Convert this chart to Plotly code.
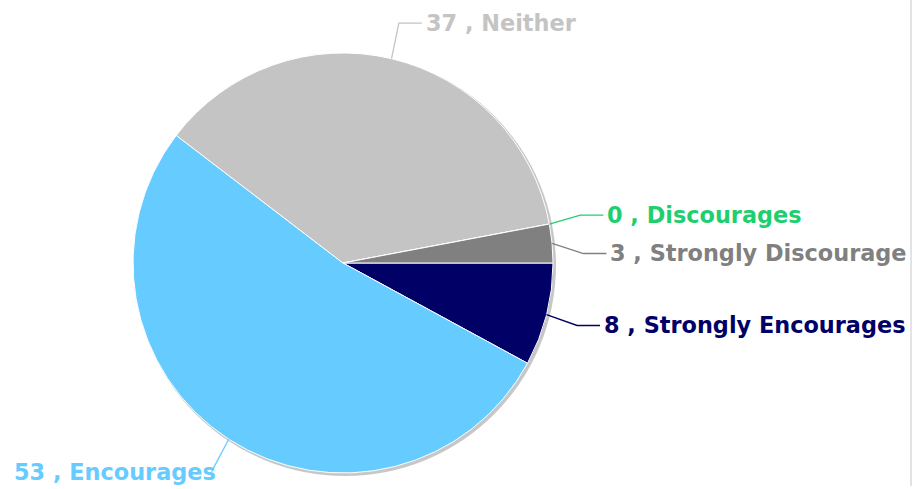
import math
import plotly.graph_objects as go

labels = ["Strongly Encourages", "Encourages", "Neither", "Discourages", "Strongly Discourage"]
values = [8, 53, 37, 0, 3]
slice_colors = ["#000066", "#66CCFF", "#C4C4C4", "#00CC66", "#808080"]
label_colors = ["#000066", "#66CCFF", "#C4C4C4", "#1ECF70", "#808080"]
label_nudge = [3, 6, -5, -3, 13]  # vertical label nudges (px) to avoid overlaps

W, H = 918, 489
CX, CY, R = 343, 263, 210
FONT = "DejaVu Sans"


def px(x):
    return x / W


def py(y):
    return 1 - y / H


fig = go.Figure()
fig.add_trace(go.Pie(
    labels=labels,
    values=values,
    sort=False,
    direction="clockwise",
    rotation=90,
    textinfo="none",
    hoverinfo="label+value",
    marker=dict(colors=slice_colors, line=dict(color="white", width=1)),
    domain=dict(x=[px(CX - R), px(CX + R)], y=[py(CY + R), py(CY - R)]),
    showlegend=False,
))

shapes = []
# soft shadow behind the pie
shapes.append(dict(type="circle", xref="paper", yref="paper", layer="below",
                   x0=px(CX - R + 1), x1=px(CX + R + 3), y0=py(CY + R + 3), y1=py(CY - R + 1),
                   fillcolor="rgba(0,0,0,0.22)", line=dict(width=0)))
# chart frame line at right
shapes.append(dict(type="line", xref="paper", yref="paper",
                   x0=px(911), x1=px(911), y0=py(0), y1=py(486),
                   line=dict(color="#C8C8C8", width=1)))

annotations = []
total = sum(values)
cum = 0
for lab, v, col, dy in zip(labels, values, label_colors, label_nudge):
    start = cum / total * 360
    cum += v
    end = cum / total * 360
    a = math.radians(-(start + end) / 2)
    ax, ay = CX + R * math.cos(a), CY - R * math.sin(a)
    ex, ey = CX + 1.15 * R * math.cos(a), CY - 1.15 * R * math.sin(a) + dy
    if math.cos(a) >= 0:
        lx = ex + 23
        tx, anchor = ex + 25, "left"
    else:
        lx = ex
        tx, anchor = ex + 6, "right"
    shapes.append(dict(type="path", xref="paper", yref="paper",
                       path=f"M {px(ax)},{py(ay)} L {px(ex)},{py(ey)} L {px(lx)},{py(ey)}",
                       line=dict(color=col, width=1.3)))
    annotations.append(dict(xref="paper", yref="paper", x=px(tx), y=py(ey),
                            xanchor=anchor, yanchor="middle", showarrow=False,
                            text=f"{v} , {lab}",
                            font=dict(family=FONT, size=22.4, color=col, weight="bold")))

fig.update_layout(
    width=W, height=H,
    margin=dict(l=0, r=0, t=0, b=0),
    paper_bgcolor="white", plot_bgcolor="white",
    shapes=shapes, annotations=annotations,
)
fig.write_html("out.html", config={"displayModeBar": False},
               post_script="document.body.style.margin='0';document.body.style.overflow='hidden';")
